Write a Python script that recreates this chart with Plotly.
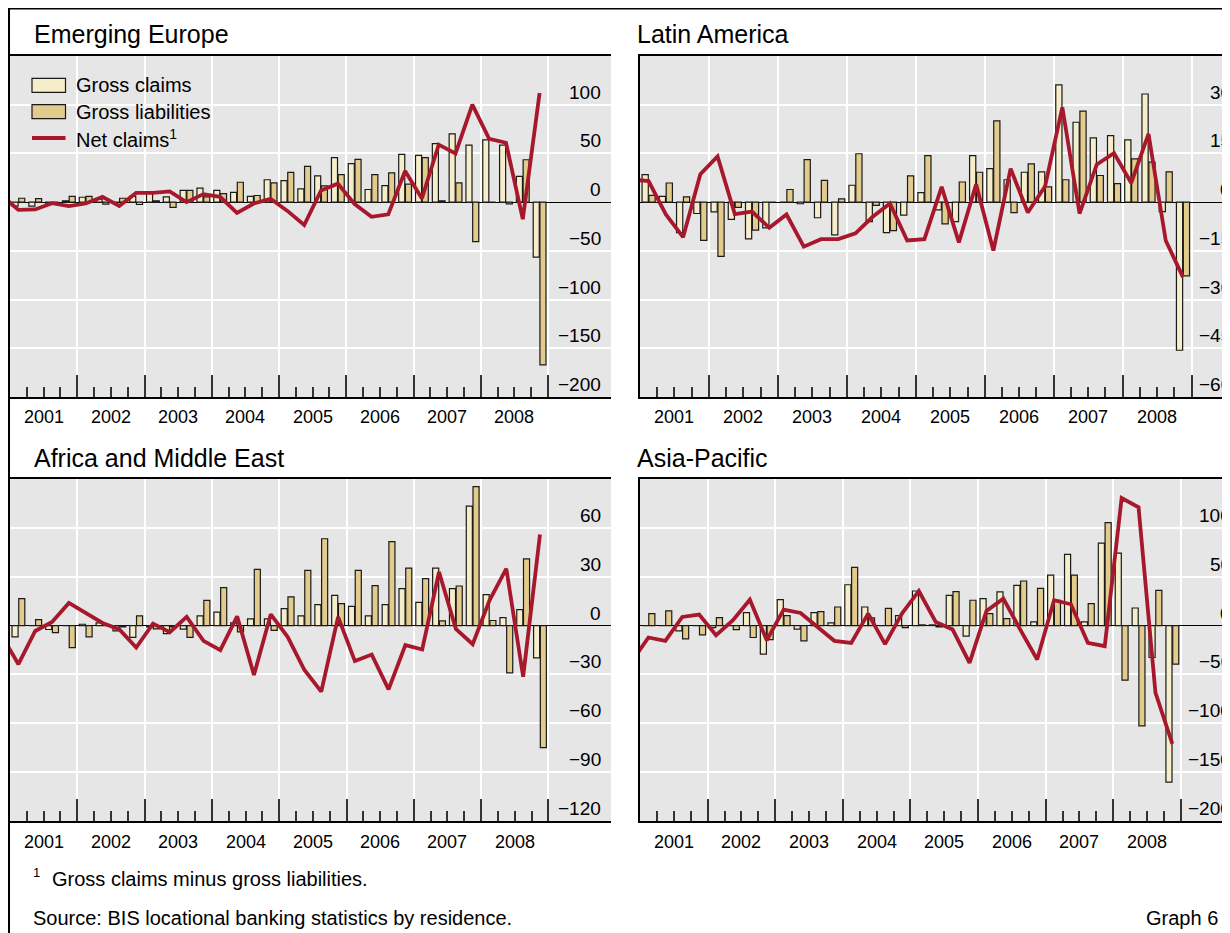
import plotly.graph_objects as go

# page is shown with an 8px body margin, so the figure is drawn 8px in from the window edge
OFF = 8
W, H = 1230 - OFF, 933 - OFF
FONT = "Liberation Sans, Arial, Helvetica, sans-serif"
TXT = "#000000"
CLAIMS_COLOR = "#f6edcb"
LIAB_COLOR = "#e2cb8c"
NET_COLOR = "#a8182d"
BG = "#e6e6e6"
EDGE = "#1a1a1a"
TICK = "#333333"

years = list(range(2001, 2009))
quarters = [f"{y}-Q{q}" for y in years for q in (1, 2, 3, 4)]
net_quarters = ["2000-Q4"] + quarters

# ---- Emerging Europe (USD bn) ----
ee_claims = [-4, -4, -1, 1.4, 5, 3, 0, 6, 9, 5.4, 12, 14.3, 12, 10, 6, 23,
             22, 13.6, 27, 45.6, 39.5, 13, 17, 49, 48, 60, 70, 58.5, 64, 58.5, 26.5, -56.5]
ee_liab = [4, 3.7, 0, 6, 6, -2, 4, -2.4, 1.4, -5.4, 12, 5.4, 8.8, 20.4, 6.8, 19.7,
           30.6, 36.7, 16.7, 28.2, 43.9, 28.2, 30, 18.4, 45.6, 1.4, 19.7, -40.5, 0, -1.7, 43.5, -167]
ee_net = [7, -8, -7.5, -1, -4, -1.4, 5.4, -4, 9.5, 9.5, 11, 0, 8.2, 5.4, -11, -1.4, 3.4,
          -9, -23.5, 12, 19, -2, -15, -12.5, 32, 3.7, 59, 50, 100, 65, 61, -17.5, 112]
ee_ticks = [-200, -150, -100, -50, 0, 50, 100]

# ---- Latin America ----
la_claims = [8.5, 1.8, -9.4, -3.5, -3, -5.3, -11.3, -7.9, 0, -0.5, -4.8, -10.1, 5.2, -6, -9.4, -4,
             2.9, -2.4, -6, 14.3, 10.3, 6.9, 9.2, 9.3, 36.1, 24.6, 19.8, 20.5, 19.2, 33.3, -2.9, -45.6]
la_liab = [2.1, 5.9, 1.6, -11.8, -16.7, -1.6, -8.6, 0, 3.9, 13.1, 6.7, 1, 14.9, -1, -8.8, 8.1,
           14.3, -6.7, 6.2, 9.2, 25, -3.2, 11.8, 4.7, 6.9, 28, 8.2, 5.7, 13.3, 12.3, 9.3, -22.7]
la_net = [7, 6.5, -3.8, -10.8, 8.6, 14.1, -3.7, -2.9, -7.9, -3.8, -13.7, -11.4, -11.4, -9.6, -4.5, -0.4,
          -11.8, -11.4, 4.7, -12.4, 5.5, -14.9, 10.3, -3.2, 4.9, 29.2, -3.5, 11.6, 15.1, 5.9, 21, -11.8, -23.1]
la_ticks = [-60, -45, -30, -15, 0, 15, 30]

# ---- Africa and Middle East ----
af_claims = [-6.9, 0, -2.4, 0, 0.8, 1.6, -3.3, -7.3, -0.8, -4.9, -2.2, 5.9, 8.2, 1.6, 4.1, 4.1,
             10.4, 5.9, 12.9, 18.6, 11.8, 5.9, 12.9, 22.7, 14.3, 35.3, 22.7, 73.3, 19, 4.9, 9.8, -19.8]
af_liab = [16.5, 3.7, -4.3, -13.5, -6.9, 0, -0.8, 5.9, -2, -0.8, -7.3, 15.5, 23.3, -3.9, 34.5, -2.9,
           17.6, 33.9, 53.3, 13.5, 33.9, 24.5, 51.6, 35.3, 28.8, 2.9, 24.3, 85.3, 3.1, -29, 41, -74.9]
af_net = [-6, -23.7, -3.3, 2.2, 13.9, 7.8, 1.6, -2.4, -13.5, 1.2, -4.1, 5.3, -9.4, -15.1, 5.7, -30.4,
          6.9, -6.9, -27.3, -40.6, 5.3, -21.8, -17.8, -39.2, -12, -14.7, 32.9, -2, -11.4, 15.5, 34.9, -31.4, 55.9]
af_ticks = [-120, -90, -60, -30, 0, 30, 60]

# ---- Asia-Pacific ----
ap_claims = [0, 0, -5.4, 0, -2, 0, 13.3, -29.3, 26.5, -3.7, 13.3, 2.7, 41.8, 19, 0, 10.2,
             35.4, 0.7, 31, -10.9, 27.6, 34.4, 41.2, 3.7, 51.7, 72.8, 3.7, 84.4, 74.1, 18, -32.7, -160.2]
ap_liab = [12.2, 15, -13.6, -9.5, 8.2, -4.1, -12.2, -14.3, 10.2, -15.6, 14.3, 19, 59.5, 7.8, 17.7, -2,
           0.7, -1.3, 34.7, 25.9, 12.2, 7.1, 45.6, 38.1, 25.9, 51.7, 22.4, 105.4, -55.8, -102.7, 36.1, -39.5]
ap_net = [-37, -12.2, -15.6, 8.8, 11.2, -9.9, 5.4, 26.5, -15, 16.3, 12.9, -1.4, -15.6, -17.7, 12.2, -19,
          12.2, 35.4, 3.7, -4.1, -38.1, 15, 27.6, -4.1, -34.7, 25.9, 21.8, -17.7, -21.1, 130.6, 121.1, -68.7, -121.1]
ap_ticks = [-200, -150, -100, -50, 0, 50, 100]


def qpos(label):
    y, q = label.split("-Q")
    return int(y) + (int(q) - 0.5) / 4


def px_x(v):  # window pixel -> paper fraction
    return (v - OFF) / W


def px_y(v):
    return 1 - (v - OFF) / H


def minus(v):
    return f"\u2212{abs(v)}" if v < 0 else str(v)


year_bounds = years + [years[-1] + 1]
quarter_bounds = [y + k / 4 for y in years for k in (1, 2, 3)]

panels = [
    dict(title="Emerging Europe", claims=ee_claims, liab=ee_liab, net=ee_net, ticks=ee_ticks,
         yrange=[-200, 150], left=10, right=611, top=56, bottom=397, ppy=67.25,
         title_x=32, title_y=34, lab_right=603),
    dict(title="Latin America", claims=la_claims, liab=la_liab, net=la_net, ticks=la_ticks,
         yrange=[-60, 45], left=640, right=1230, top=56, bottom=397, ppy=68.95,
         title_x=635, title_y=34, lab_right=1233),
    dict(title="Africa and Middle East", claims=af_claims, liab=af_liab, net=af_net, ticks=af_ticks,
         yrange=[-120, 90], left=10, right=611, top=479, bottom=821, ppy=67.3,
         title_x=32, title_y=458, lab_right=603),
    dict(title="Asia-Pacific", claims=ap_claims, liab=ap_liab, net=ap_net, ticks=ap_ticks,
         yrange=[-200, 150], left=640, right=1230, top=479, bottom=821, ppy=67.6,
         title_x=635, title_y=458, lab_right=1233),
]

fig = go.Figure()
annotations = []
shapes = []
axes = {}

xs = [qpos(q) for q in quarters]
xn = [qpos(q) for q in net_quarters]

for i, p in enumerate(panels, start=1):
    xa = "x" if i == 1 else f"x{i}"
    ya = "y" if i == 1 else f"y{i}"
    fig.add_trace(go.Bar(x=xs, y=p["claims"], name="Gross claims", xaxis=xa, yaxis=ya,
                         marker=dict(color=CLAIMS_COLOR, line=dict(color=EDGE, width=1.2)),
                         showlegend=False))
    fig.add_trace(go.Bar(x=xs, y=p["liab"], name="Gross liabilities", xaxis=xa, yaxis=ya,
                         marker=dict(color=LIAB_COLOR, line=dict(color=EDGE, width=1.2)),
                         showlegend=False))
    fig.add_trace(go.Scatter(x=xn, y=p["net"], name="Net claims", mode="lines", xaxis=xa, yaxis=ya,
                             line=dict(color=NET_COLOR, width=3.8), showlegend=False))

    width_px = min(p["right"], OFF + W) - p["left"]
    xkey = "xaxis" if i == 1 else f"xaxis{i}"
    ykey = "yaxis" if i == 1 else f"yaxis{i}"
    axes[xkey] = dict(
        domain=[px_x(p["left"]), min(1.0, px_x(p["right"]))], range=[2001, 2001 + width_px / p["ppy"]],
        anchor=ya, tickmode="array", tickvals=year_bounds, ticks="inside", ticklen=22,
        tickwidth=1.5, tickcolor=TICK, showticklabels=False, showgrid=True, gridcolor="white",
        gridwidth=1.5, showline=True, linecolor="black", linewidth=2, mirror=True, zeroline=False,
        minor=dict(tickmode="array", tickvals=quarter_bounds, ticks="inside", ticklen=10,
                   tickwidth=1.5, tickcolor=TICK, showgrid=False),
        fixedrange=True)
    axes[ykey] = dict(
        domain=[px_y(p["bottom"]), px_y(p["top"])], range=p["yrange"], anchor=xa,
        tickmode="array", tickvals=p["ticks"], showticklabels=False, ticks="",
        showgrid=True, gridcolor="white", gridwidth=1.5, zeroline=True, zerolinecolor="black",
        zerolinewidth=1, showline=True, linecolor="black", linewidth=2, fixedrange=True)

    # panel title
    annotations.append(dict(text=p["title"], xref="paper", yref="paper", x=px_x(p["title_x"]),
                            y=px_y(p["title_y"]), xanchor="left", yanchor="middle", showarrow=False,
                            font=dict(size=25, color=TXT, family=FONT)))
    # year labels
    for yv in years:
        annotations.append(dict(text=str(yv), xref=xa, yref="paper", x=yv + 0.5,
                                y=px_y(p["bottom"] + 20.5), xanchor="center", yanchor="middle",
                                showarrow=False, font=dict(size=18, color=TXT, family=FONT)))
    # value labels
    for tv in p["ticks"]:
        annotations.append(dict(text=minus(tv), xref="paper", yref=ya, x=px_x(p["lab_right"]),
                                y=tv, xanchor="right", yanchor="middle", yshift=12.5,
                                showarrow=False, font=dict(size=19, color=TXT, family=FONT)))

# legend (top-left panel)
legend_rows = [("Gross claims", CLAIMS_COLOR, 85.3, "box"),
               ("Gross liabilities", LIAB_COLOR, 111.7, "box"),
               ("Net claims<sup>1</sup>", NET_COLOR, 138, "line")]
for label, col, yc, kind in legend_rows:
    if kind == "box":
        shapes.append(dict(type="rect", xref="paper", yref="paper", x0=px_x(32), x1=px_x(65.5),
                           y0=px_y(yc + 7), y1=px_y(yc - 7), fillcolor=col,
                           line=dict(color=EDGE, width=1.2), layer="above"))
    else:
        shapes.append(dict(type="line", xref="paper", yref="paper", x0=px_x(32), x1=px_x(65.5),
                           y0=px_y(yc), y1=px_y(yc), line=dict(color=col, width=3.8), layer="above"))
    annotations.append(dict(text=label, xref="paper", yref="paper", x=px_x(74), y=px_y(yc),
                            xanchor="left", yanchor="middle", showarrow=False,
                            font=dict(size=20, color=TXT, family=FONT)))

# outer frame
shapes.append(dict(type="line", xref="paper", yref="paper", x0=px_x(8), x1=1.0,
                   y0=px_y(8.2), y1=px_y(8.2), line=dict(color="black", width=2.5), layer="above"))
shapes.append(dict(type="line", xref="paper", yref="paper", x0=px_x(9), x1=px_x(9),
                   y0=1.0, y1=0, line=dict(color="black", width=2), layer="above"))

# footnotes
annotations += [
    dict(text="1", xref="paper", yref="paper", x=px_x(31), y=px_y(872), xanchor="left",
         yanchor="middle", showarrow=False, font=dict(size=13, color=TXT, family=FONT)),
    dict(text="Gross claims minus gross liabilities.", xref="paper", yref="paper", x=px_x(50),
         y=px_y(879), xanchor="left", yanchor="middle", showarrow=False,
         font=dict(size=20, color=TXT, family=FONT)),
    dict(text="Source: BIS locational banking statistics by residence.", xref="paper", yref="paper",
         x=px_x(31), y=px_y(918), xanchor="left", yanchor="middle", showarrow=False,
         font=dict(size=20, color=TXT, family=FONT)),
    dict(text="Graph 6", xref="paper", yref="paper", x=px_x(1220), y=px_y(918), xanchor="right",
         yanchor="middle", showarrow=False, font=dict(size=20, color=TXT, family=FONT)),
]

fig.update_layout(
    width=W, height=H, margin=dict(l=0, r=0, t=0, b=0),
    paper_bgcolor="white", plot_bgcolor=BG,
    barmode="group", bargap=0.2, bargroupgap=0.1,
    showlegend=False, annotations=annotations, shapes=shapes,
    font=dict(family=FONT, color=TXT),
    **axes,
)

fig.write_html("out.html", config={"displayModeBar": False})
